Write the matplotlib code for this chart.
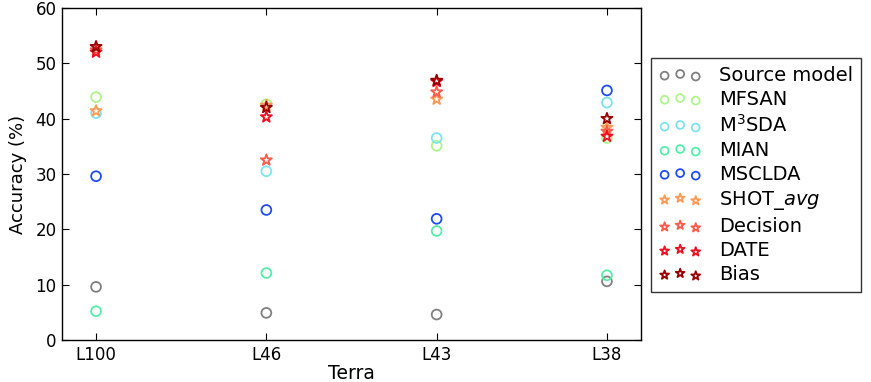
import matplotlib
matplotlib.use("Agg")
import matplotlib.pyplot as plt
import numpy as np

domains = ["L100", "L46", "L43", "L38"]
methods = ["Source model", "MFSAN", r"M$^3$SDA", "MIAN", "MSCLDA",
           r"SHOT_$avg$", "Decision", "DATE", "Bias"]
source_model = [9.6, 4.9, 4.6, 10.6]
mfsan = [43.9, 42.6, 35.1, 36.5]
m3sda = [41.0, 30.5, 36.5, 42.9]
mian = [5.2, 12.1, 19.7, 11.7]
msclda = [29.6, 23.5, 21.9, 45.1]
shot_avg = [41.4, 42.4, 43.5, 38.4]
decision = [52.4, 32.5, 44.8, 37.7]
date = [52.0, 40.3, 46.7, 36.8]
bias = [53.0, 42.0, 46.9, 40.0]

series = [source_model, mfsan, m3sda, mian, msclda, shot_avg, decision, date, bias]
colors = ["#808080", "#b0f58a", "#7fe3ee", "#55f0a8", "#1f4cf5",
          "#ff9a55", "#ff5a4a", "#ee1020", "#990000"]
markers = ["o"] * 5 + ["*"] * 4
sizes = [50] * 5 + [70] * 4

plt.rcParams["font.family"] = "DejaVu Sans"
fig = plt.figure(figsize=(8.71, 3.82), dpi=100)
ax = fig.add_axes([62 / 871, 1 - 340 / 382, (641 - 62) / 871, (340 - 8) / 382])

x = np.arange(len(domains))
for vals, lab, c, m, s in zip(series, methods, colors, markers, sizes):
    ax.scatter(x, vals, s=s, marker=m, facecolors="none", edgecolors=c,
               linewidths=1.3, label=lab)

ax.set_xlim(-0.2, 3.2)
ax.set_ylim(0, 60)
ax.set_xticks(x)
ax.set_xticklabels(domains, fontsize=12)
ax.set_yticks(np.arange(0, 61, 10))
ax.tick_params(axis="both", direction="in", top=True, right=True,
               length=5, width=0.8, labelsize=12, pad=4)
ax.set_xlabel("Terra", fontsize=13.5, labelpad=0)
ax.set_ylabel("Accuracy (%)", fontsize=13, labelpad=6)
for sp in ax.spines.values():
    sp.set_linewidth(1.0)

leg = ax.legend(loc="upper left", bbox_to_anchor=(651 / 871, 1 - 58 / 382),
                bbox_transform=fig.transFigure, scatterpoints=3, markerscale=0.8,
                fontsize=14, frameon=True, fancybox=False, edgecolor="black",
                borderaxespad=0, handletextpad=0.9, labelspacing=0.26,
                handlelength=2.2, borderpad=0.4)
leg.get_frame().set_linewidth(1.0)

fig.savefig("out.png", dpi=100)
